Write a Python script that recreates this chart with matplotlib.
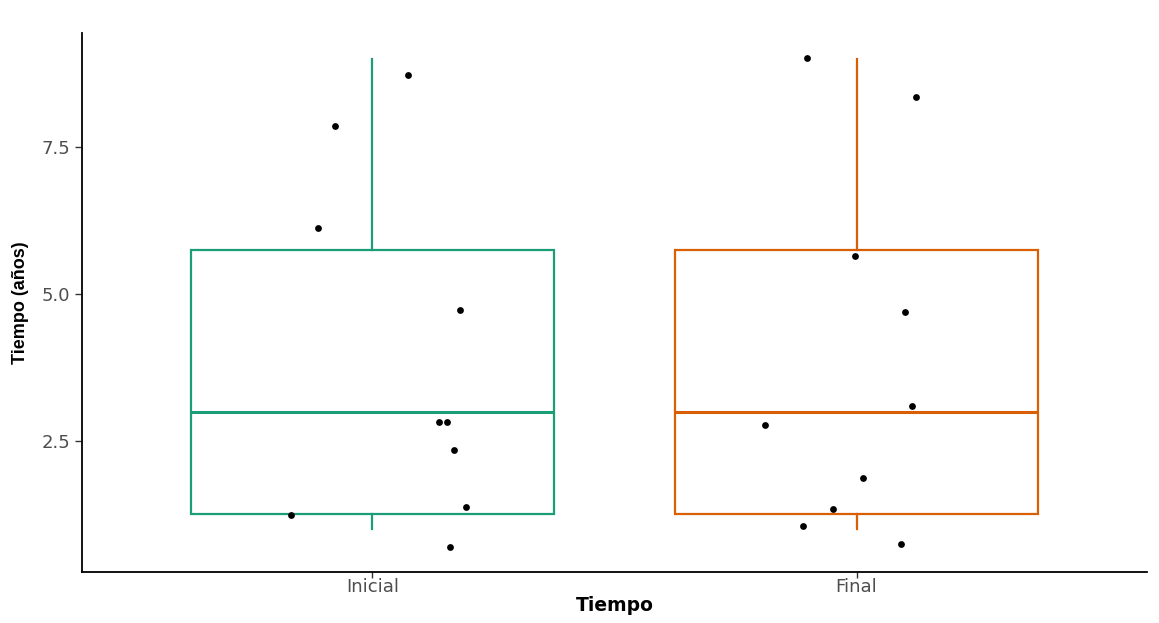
import matplotlib
matplotlib.use("Agg")
import matplotlib.pyplot as plt

categories = ["Inicial", "Final"]
colors = ["#1B9E77", "#D95F02"]
# box statistics: whisker low, q1, median, q3, whisker high
box_stats = {
    "Inicial": [1.0, 1.25, 3.0, 5.75, 9.0],
    "Final":   [1.0, 1.25, 3.0, 5.75, 9.0],
}
# jittered points (x offset from category, y value)
pts_inicial_x = [0.074, -0.078, -0.113, 0.181, 0.138, 0.153, 0.169, 0.194, -0.169, 0.161]
pts_inicial_y = [8.72, 7.86, 6.12, 4.73, 2.82, 2.82, 2.35, 1.38, 1.24, 0.70]
pts_final_x = [-0.103, 0.122, -0.004, 0.101, 0.115, -0.190, 0.014, -0.049, -0.111, 0.091]
pts_final_y = [9.01, 8.35, 5.65, 4.69, 3.10, 2.77, 1.87, 1.34, 1.05, 0.75]
yticks = [2.5, 5.0, 7.5]

plt.rcParams['font.family'] = ['Liberation Sans', 'DejaVu Sans']
fig = plt.figure(figsize=(11.59, 6.23), dpi=100)
ax = fig.add_axes([0.0708, 0.0819, 0.9188, 0.8651])

stats = []
for c in categories:
    lo, q1, med, q3, hi = box_stats[c]
    stats.append(dict(whislo=lo, q1=q1, med=med, q3=q3, whishi=hi, fliers=[], label=c))
bp = ax.bxp(stats, positions=[1, 2], widths=0.75, showcaps=False, patch_artist=True)
for i, col in enumerate(colors):
    bp['boxes'][i].set(facecolor='white', edgecolor=col, linewidth=1.6)
    bp['medians'][i].set(color=col, linewidth=2.2)
    for w in bp['whiskers'][2*i:2*i+2]:
        w.set(color=col, linewidth=1.6)

ax.scatter([1 + x for x in pts_inicial_x], pts_inicial_y, s=24, color='black', zorder=5, linewidths=0)
ax.scatter([2 + x for x in pts_final_x], pts_final_y, s=24, color='black', zorder=5, linewidths=0)

ax.set_xlim(0.4, 2.6)
ax.set_ylim(0.27, 9.44)
ax.set_xticks([1, 2])
ax.set_xticklabels(categories, family=['DejaVu Sans'], fontsize=13)
ax.set_yticks(yticks)
ax.set_yticklabels([f"{v:.1f}" for v in yticks], family=['DejaVu Sans'], fontsize=13)
ax.tick_params(axis='both', colors='#333333', labelcolor='#4D4D4D', length=5, width=1)
ax.tick_params(axis='x', pad=0.5, length=4)
for s in ['top', 'right']:
    ax.spines[s].set_visible(False)
for s in ['left', 'bottom']:
    ax.spines[s].set_linewidth(1.3)
    ax.spines[s].set_color('black')
ax.set_xlabel("Tiempo", fontsize=13.5, fontweight='bold', family=['DejaVu Sans'], labelpad=0)
ax.set_ylabel("Tiempo (años)", fontsize=13, fontweight='bold', labelpad=9)

fig.savefig("out.png", dpi=100)
